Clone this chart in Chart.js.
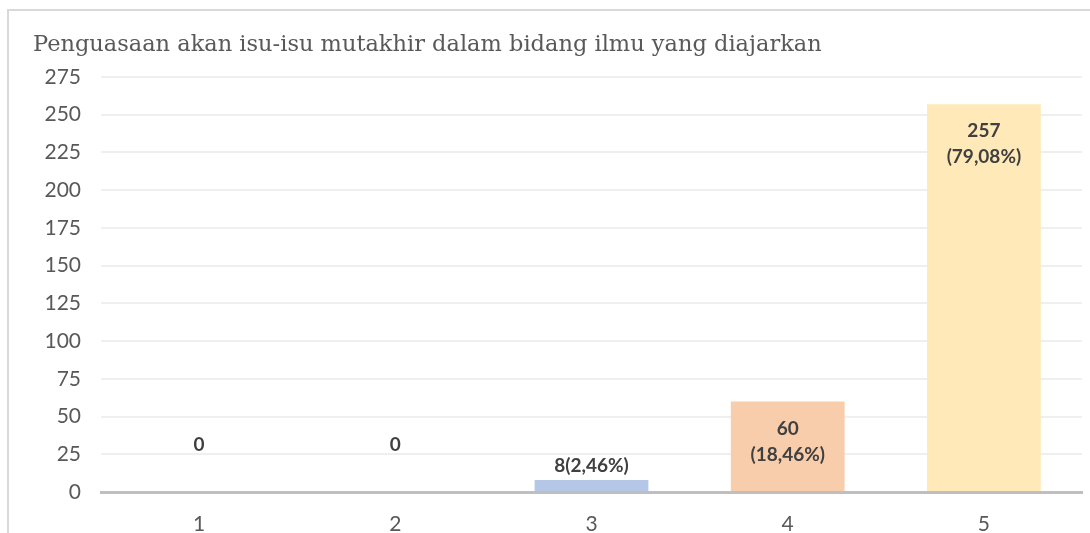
<!DOCTYPE html>
<html>
<head>
<meta charset="utf-8">
<script src="https://cdn.jsdelivr.net/npm/chart.js@4"></script>
<style>
  body { margin: 0; background: #fff; }
  #frame { position: absolute; left: 7px; top: 9px; width: 1090px; height: 533px;
           border-top: 2px solid #d9d9d9; border-left: 2px solid #d9d9d9; }
  #wrap { position: absolute; left: 0; top: 0; width: 1090px; height: 533px; }
</style>
</head>
<body>
<div id="frame"></div>
<div id="wrap"><canvas id="chart" width="1090" height="533"></canvas></div>
<script>
var categories = ['1', '2', '3', '4', '5'];
var counts = [0, 0, 8, 60, 257];
var labelText = [['0'], ['0'], ['8(2,46%)'], ['60', '(18,46%)'], ['257', '(79,08%)']];
var barColors = ['#b4c7e7', '#b4c7e7', '#b4c7e7', '#f8cdab', '#ffe9b8'];
var chartTitle = 'Penguasaan akan isu-isu mutakhir dalam bidang ilmu yang diajarkan';

var barLabels = {
    id: 'barLabels',
    afterDatasetsDraw: function(chart) {
        var ctx = chart.ctx;
        var meta = chart.getDatasetMeta(0);
        ctx.save();
        ctx.font = 'bold 19px Lato';
        ctx.fillStyle = '#404040';
        ctx.textAlign = 'center';
        ctx.textBaseline = 'middle';
        meta.data.forEach(function(bar, i) {
            var lines = labelText[i];
            var h = bar.base - bar.y;
            var y;
            if (counts[i] === 0) {
                y = bar.base - 47;
            } else if (h > 60) {
                y = bar.y + 27;
            } else {
                y = bar.y - 14;
            }
            for (var k = 0; k < lines.length; k++) {
                ctx.fillText(lines[k], bar.x, y + k * 26);
            }
        });
        ctx.restore();
    }
};

new Chart(document.getElementById('chart'), {
    type: 'bar',
    data: {
        labels: categories,
        datasets: [{
            data: counts,
            backgroundColor: barColors,
            barPercentage: 0.58,
            categoryPercentage: 1
        }]
    },
    options: {
        responsive: false,
        animation: false,
        layout: { padding: { left: 33, right: 8, top: 32, bottom: -24 } },
        plugins: {
            legend: { display: false },
            tooltip: { enabled: false },
            title: {
                display: true,
                text: chartTitle,
                align: 'start',
                color: '#595959',
                font: { family: 'DejaVu Serif', size: 22.5, weight: 'normal', lineHeight: 1.2 },
                padding: { top: 0, bottom: 18 }
            }
        },
        scales: {
            x: {
                grid: { display: false, drawTicks: false },
                border: { display: true, color: '#bfbfbf', width: 3 },
                ticks: { color: '#595959', font: { family: 'Lato', size: 21, lineHeight: 1 }, padding: 22 }
            },
            y: {
                min: 0,
                max: 275,
                afterFit: function(scale) { scale.width = 68; },
                ticks: { stepSize: 25, color: '#595959', font: { family: 'Lato', size: 21 }, padding: 20 },
                grid: { color: '#efefef', lineWidth: 2, drawTicks: false },
                border: { display: false }
            }
        }
    },
    plugins: [barLabels]
});
</script>
</body>
</html>
